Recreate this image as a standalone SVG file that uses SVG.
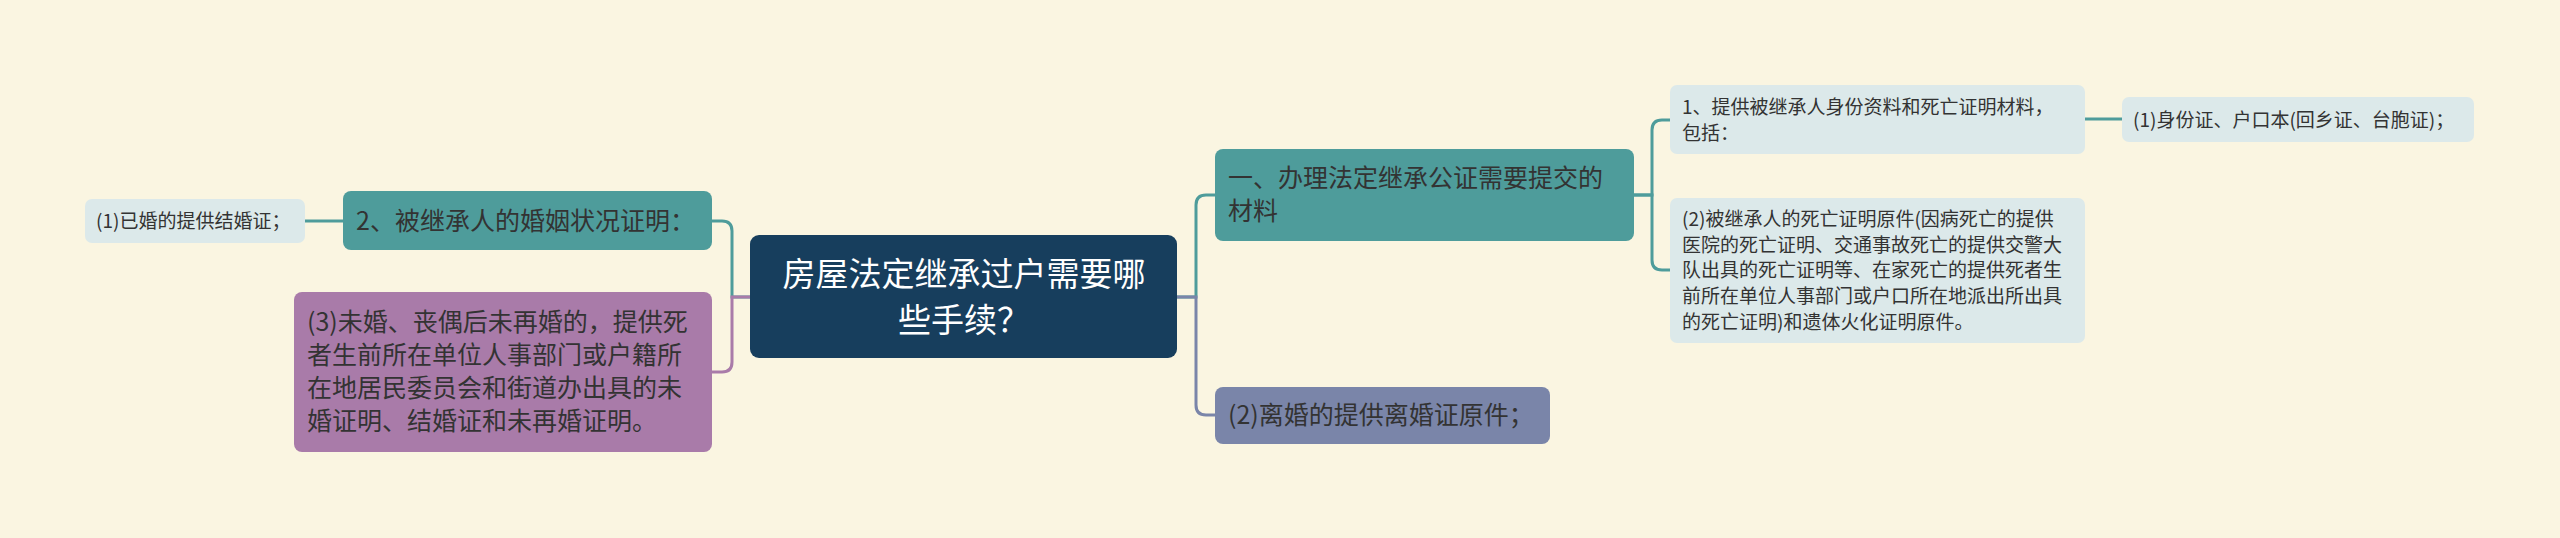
<svg xmlns="http://www.w3.org/2000/svg" width="2560" height="538" viewBox="0 0 2560 538">
<style>
text{font-family:"Noto Sans CJK SC","Noto Sans",sans-serif;fill:#333333}
.c{fill:none;stroke-width:3;stroke-linecap:round}
.teal{fill:#4e9c9b}
.light{fill:#dce9ea}
.purple{fill:#a97ba9}
.slate{fill:#7a85a9}
.navy{fill:#173e5d}
.f19{font-size:19px}
.f25{font-size:25px}
</style>
<rect width="2560" height="538" fill="#faf5e1"/>
<g id="connectors">
<path class="c" stroke="#4e9c9b" d="M750,297 H732 V231 Q732,221 722,221 H712"/>
<path class="c" stroke="#a97ba9" d="M750,297 H732 V362 Q732,372 722,372 H712"/>
<path class="c" stroke="#4e9c9b" d="M343,221 H305"/>
<path class="c" stroke="#4e9c9b" d="M1177,297 H1196 V205 Q1196,195 1206,195 H1215"/>
<path class="c" stroke="#7a85a9" d="M1177,297 H1196 V405 Q1196,415 1206,415 H1215"/>
<path class="c" stroke="#4e9c9b" d="M1634,195 H1652 V130 Q1652,120 1662,120 H1670"/>
<path class="c" stroke="#4e9c9b" d="M1634,195 H1652 V260 Q1652,270 1662,270 H1670"/>
<path class="c" stroke="#4e9c9b" d="M2085,119 H2122"/>
</g>
<g id="center">
<rect class="navy" x="750" y="235" width="427" height="123" rx="9"/>
<text x="964" y="286" font-size="33" text-anchor="middle" style="fill:#ffffff">房屋法定继承过户需要哪</text>
<text x="964" y="332" font-size="33" text-anchor="middle" style="fill:#ffffff">些手续？</text>
</g>
<g id="node-marital">
<rect class="teal" x="343" y="191" width="369" height="59" rx="8"/>
<text class="f25" x="356" y="230">2、被继承人的婚姻状况证明：</text>
</g>
<g id="node-married">
<rect class="light" x="85" y="199" width="220" height="44" rx="7"/>
<text class="f19" x="96" y="228">(1)已婚的提供结婚证；</text>
</g>
<g id="node-unmarried">
<rect class="purple" x="294" y="292" width="418" height="160" rx="8"/>
<text class="f25" x="307" y="331">(3)未婚、丧偶后未再婚的，提供死</text>
<text class="f25" x="307" y="364">者生前所在单位人事部门或户籍所</text>
<text class="f25" x="307" y="397">在地居民委员会和街道办出具的未</text>
<text class="f25" x="307" y="430">婚证明、结婚证和未再婚证明。</text>
</g>
<g id="node-notary">
<rect class="teal" x="1215" y="149" width="419" height="92" rx="8"/>
<text class="f25" x="1228" y="187">一、办理法定继承公证需要提交的</text>
<text class="f25" x="1228" y="220">材料</text>
</g>
<g id="node-divorce">
<rect class="slate" x="1215" y="387" width="335" height="57" rx="8"/>
<text class="f25" x="1228" y="424">(2)离婚的提供离婚证原件；</text>
</g>
<g id="node-identity">
<rect class="light" x="1670" y="85" width="415" height="69" rx="7"/>
<text class="f19" x="1682" y="114">1、提供被继承人身份资料和死亡证明材料，</text>
<text class="f19" x="1682" y="140">包括：</text>
</g>
<g id="node-death">
<rect class="light" x="1670" y="198" width="415" height="145" rx="7"/>
<text class="f19" x="1682" y="226">(2)被继承人的死亡证明原件(因病死亡的提供</text>
<text class="f19" x="1682" y="252">医院的死亡证明、交通事故死亡的提供交警大</text>
<text class="f19" x="1682" y="277">队出具的死亡证明等、在家死亡的提供死者生</text>
<text class="f19" x="1682" y="303">前所在单位人事部门或户口所在地派出所出具</text>
<text class="f19" x="1682" y="329">的死亡证明)和遗体火化证明原件。</text>
</g>
<g id="node-idcard">
<rect class="light" x="2122" y="97" width="352" height="45" rx="7"/>
<text class="f19" x="2133" y="127">(1)身份证、户口本(回乡证、台胞证)；</text>
</g>
</svg>
